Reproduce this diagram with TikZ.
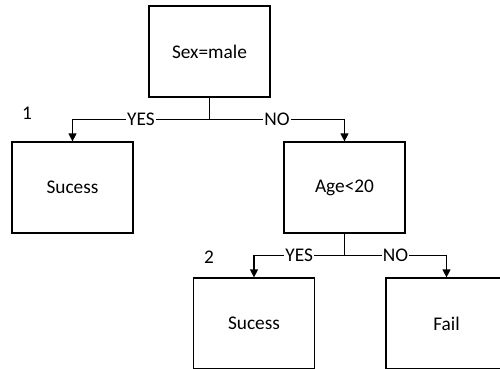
\documentclass[tikz,border=0pt]{standalone}
\usepackage{fontspec}
\setmainfont{Carlito}
\usetikzlibrary{arrows.meta}

\begin{document}
\begin{tikzpicture}[x=0.75pt,y=0.75pt,yscale=-1,xscale=1,
    box/.style={draw,line width=0.9pt,minimum width=90.75pt,minimum height=68.25pt,inner sep=0pt,font=\fontsize{14.5}{17}\selectfont},
    branch/.style={line width=0.9pt,-{Triangle[width=6pt,length=6pt]}},
    lbl/.style={fill=white,inner sep=0.75pt,font=\fontsize{14.5}{17}\selectfont}]
  \useasboundingbox (0,0) rectangle (500,368);
  \clip (0,0) rectangle (500,368);
  % boxes
  \node[box] (root) at (209.5,51.5) {Sex=male};
  \node[box] (succA) at (72.5,187.5) {Sucess};
  \node[box] (age) at (344.5,187.5) {Age<20};
  \node[box] (succB) at (254,323.5) {Sucess};
  \node[box] (fail) at (446.5,323.5) {Fail};
  % joints
  \draw[line width=0.9pt] (root.south) -- ++(0,22) coordinate (j1);
  \draw[line width=0.9pt] (age.south) -- ++(0,22) coordinate (j2);
  \draw[branch] (j1) -| node[lbl,pos=0.25] {YES} (succA.north);
  \draw[branch] (j1) -| node[lbl,pos=0.25] {NO} (age.north);
  \draw[branch] (j2) -| node[lbl,pos=0.25] {YES} (succB.north);
  \draw[branch] (j2) -| node[lbl,pos=0.25] {NO} (fail.north);
  % numbers
  \node[lbl,fill=none] (n1) at (27,113) {1};
  \node[lbl,fill=none] (n2) at (209,257) {2};
\end{tikzpicture}
\end{document}
